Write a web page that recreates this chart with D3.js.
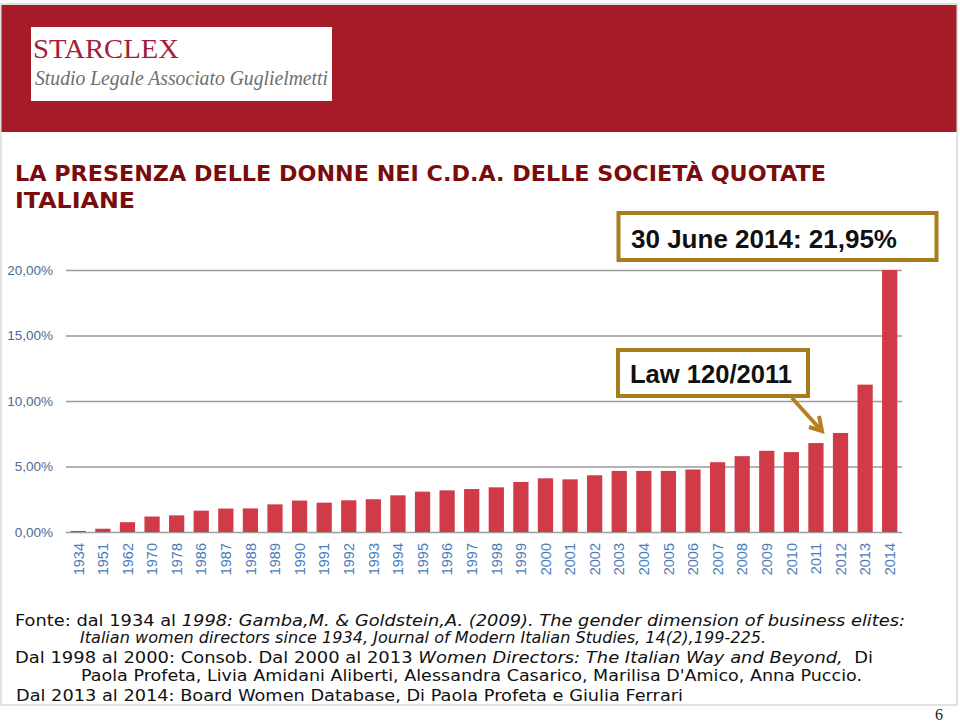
<!DOCTYPE html>
<html><head><meta charset="utf-8">
<script src="https://cdn.jsdelivr.net/npm/d3@7"></script>
<style>
html,body{margin:0;padding:0;background:#fff;}
svg{display:block;}
</style></head>
<body>
<svg id="c" width="960" height="722"></svg>
<script>
const years = ["1934","1951","1962","1970","1978","1986","1987","1988","1989","1990","1991","1992","1993","1994","1995","1996","1997","1998","1999","2000","2001","2002","2003","2004","2005","2006","2007","2008","2009","2010","2011","2012","2013","2014"];
const shares = [0.08,0.25,0.75,1.18,1.27,1.63,1.79,1.80,2.11,2.40,2.24,2.42,2.50,2.80,3.08,3.18,3.28,3.41,3.82,4.10,4.02,4.33,4.66,4.66,4.66,4.77,5.33,5.79,6.20,6.10,6.79,7.56,11.25,21.95];
const yTicks = [0,5,10,15,20];
const titleLines = ["LA PRESENZA DELLE DONNE NEI C.D.A. DELLE SOCIETÀ QUOTATE","ITALIANE"];
const note2014 = "30 June 2014: 21,95%";
const noteLaw = "Law 120/2011";

const svg = d3.select("#c");

// slide frame
svg.append("rect").attr("x",1).attr("y",4).attr("width",956).attr("height",701)
  .attr("fill","none").attr("stroke","#cfcfcf").attr("stroke-width",1.2);

// header band
svg.append("rect").attr("x",1.5).attr("y",5).attr("width",955).attr("height",127).attr("fill","#a51c28");
svg.append("rect").attr("x",31).attr("y",27).attr("width",301).attr("height",74).attr("fill","#fff");
svg.append("text").attr("x",33).attr("y",58).text("STARCLEX")
  .attr("font-family","Liberation Serif, DejaVu Serif, serif").attr("font-size",28)
  .attr("fill","#a51c3a").attr("textLength",146).attr("lengthAdjust","spacingAndGlyphs");
svg.append("text").attr("x",35).attr("y",85).text("Studio Legale Associato Guglielmetti")
  .attr("font-family","Liberation Serif, DejaVu Serif, serif").attr("font-style","italic").attr("font-size",20)
  .attr("fill","#6e6e6e").attr("textLength",293).attr("lengthAdjust","spacingAndGlyphs");

// title
svg.append("text").attr("x",15).attr("y",181).text(titleLines[0])
  .attr("font-family","DejaVu Sans, Verdana, sans-serif").attr("font-weight","bold").attr("font-size",21)
  .attr("fill","#7a0c0c").attr("textLength",811).attr("lengthAdjust","spacingAndGlyphs");
svg.append("text").attr("x",15).attr("y",208).text(titleLines[1])
  .attr("font-family","DejaVu Sans, Verdana, sans-serif").attr("font-weight","bold").attr("font-size",21)
  .attr("fill","#7a0c0c").attr("textLength",120).attr("lengthAdjust","spacingAndGlyphs");

// chart
const x = d3.scaleBand().domain(years).range([66,902]).paddingInner(0.38).paddingOuter(0.19);
const y = d3.scaleLinear().domain([0,20]).range([532,270]).clamp(true);

const yAxis = d3.axisLeft(y).tickValues(yTicks).tickSizeInner(-836).tickSizeOuter(0).tickPadding(13)
  .tickFormat(d => d.toFixed(2).replace(".",",") + "%");
const gy = svg.append("g").attr("transform","translate(66,0)").call(yAxis);
gy.select(".domain").remove();
gy.selectAll(".tick line").attr("stroke","#9a9a9a").attr("stroke-width",1.6);
gy.selectAll(".tick text").attr("font-family","Liberation Sans, Arial, sans-serif").attr("font-size",13.5)
  .attr("fill","#4d6a90");

svg.append("g").selectAll("rect").data(years).join("rect")
  .attr("x",d=>x(d)).attr("width",x.bandwidth())
  .attr("y",(d,i)=>y(shares[i])).attr("height",(d,i)=>y(0)-y(shares[i]))
  .attr("fill","#d13b47");

const xAxis = d3.axisBottom(x).tickSize(0).tickPadding(0);
const gx = svg.append("g").attr("transform","translate(0,532)").call(xAxis);
gx.select(".domain").attr("stroke","#a0a0a0").attr("stroke-width",1.2);
gx.selectAll(".tick text").attr("font-family","Liberation Sans, Arial, sans-serif").attr("font-size",14.5)
  .attr("fill","#4a7cbc").attr("text-anchor","end")
  .attr("transform","rotate(-90)").attr("x",-11).attr("y",0).attr("dy","0.36em");

// annotations
function box(x0,y0,w,h,label,tx,ty,tl){
  svg.append("rect").attr("x",x0).attr("y",y0).attr("width",w).attr("height",h)
    .attr("fill","#fff").attr("stroke","#a67c1c").attr("stroke-width",4);
  svg.append("text").attr("x",tx).attr("y",ty).text(label)
    .attr("font-family","Liberation Sans, Arial, sans-serif").attr("font-weight","bold").attr("font-size",25)
    .attr("fill","#111").attr("textLength",tl).attr("lengthAdjust","spacingAndGlyphs");
}
box(618.5,213,318,47,note2014,631,248,266);
box(618,350,190,46,noteLaw,630,383,162);

// arrow
const ax0=792, ay0=398, ax1=822, ay1=431;
svg.append("line").attr("x1",ax0).attr("y1",ay0).attr("x2",ax1-2).attr("y2",ay1-2)
  .attr("stroke","#b5801d").attr("stroke-width",4);
svg.append("path").attr("d",`M${ax1-13},${ay1-4} L${ax1},${ay1} L${ax1-3},${ay1-15}`)
  .attr("fill","none").attr("stroke","#b5801d").attr("stroke-width",4).attr("stroke-linejoin","miter");

// footer
const ff = "DejaVu Sans, Verdana, sans-serif";
const fs = 15.3;
function line(parent,xx,yy,tl,parts){
  const t = parent.append("text").attr("x",xx).attr("y",yy).attr("font-family",ff).attr("font-size",fs).attr("fill","#111")
    .attr("textLength",tl).attr("lengthAdjust","spacingAndGlyphs").style("white-space","pre");
  parts.forEach(p=>t.append("tspan").attr("font-style",p[1]?"italic":"normal").text(p[0]));
}
svg.append("clipPath").attr("id","fc").append("rect").attr("x",0).attr("y",600).attr("width",960).attr("height",105);
const fg = svg.append("g").attr("clip-path","url(#fc)");
line(fg,15,626,890,[["Fonte: dal 1934 al ",0],["1998: Gamba,M. & Goldstein,A. (2009). The gender dimension of business elites:",1]]);
line(fg,80,643,686,[["Italian women directors since 1934, Journal of Modern Italian Studies, 14(2),199-225.",1]]);
line(fg,15,663,858,[["Dal 1998 al 2000: Consob. Dal 2000 al 2013 ",0],["Women Directors: The Italian Way and Beyond,",1],["  Di",0]]);
line(fg,81,681,781,[["Paola Profeta, Livia Amidani Aliberti, Alessandra Casarico, Marilisa D'Amico, Anna Puccio.",0]]);
line(fg,16,701,667,[["Dal 2013 al 2014: Board Women Database, Di Paola Profeta e Giulia Ferrari",0]]);

svg.append("text").attr("x",935).attr("y",720).text("6")
  .attr("font-family","Liberation Serif, serif").attr("font-size",16).attr("fill","#222");
</script>
</body></html>
